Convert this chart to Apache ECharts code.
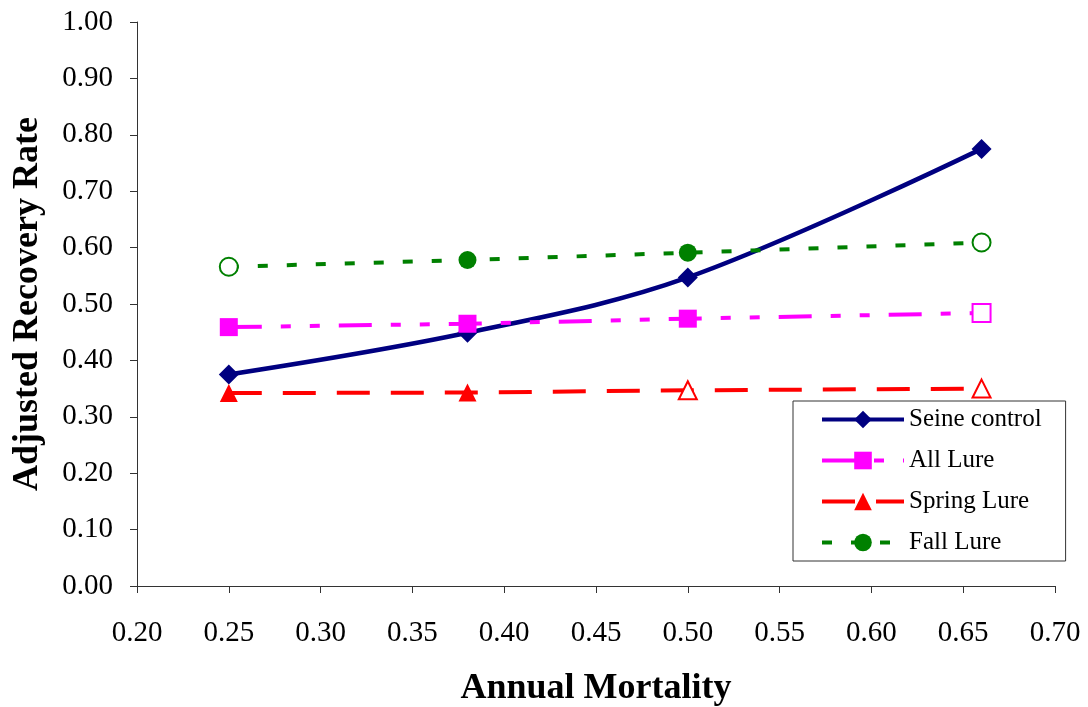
<!DOCTYPE html>
<html>
<head>
<meta charset="utf-8">
<script src="https://cdn.jsdelivr.net/npm/echarts@6/dist/echarts.min.js"></script>
<style>
html,body{margin:0;padding:0;background:#fff;}
#chart{width:1088px;height:707px;}
</style>
</head>
<body>
<div id="chart"></div>
<script>
// ---- data ----
const mortality = [0.25, 0.38, 0.50, 0.66];
const seineControl = [0.375, 0.449, 0.547, 0.775];
const allLure = [0.459, 0.465, 0.474, 0.484];
const springLure = [0.342, 0.343, 0.347, 0.350];
const fallLure = [0.566, 0.578, 0.591, 0.609];
// which points are drawn with hollow markers
const seineHollow = [false, false, false, false];
const allHollow = [false, false, false, true];
const springHollow = [false, false, true, true];
const fallHollow = [true, false, false, true];
const xTicks = [0.20, 0.25, 0.30, 0.35, 0.40, 0.45, 0.50, 0.55, 0.60, 0.65, 0.70];
const yTicks = [0.00, 0.10, 0.20, 0.30, 0.40, 0.50, 0.60, 0.70, 0.80, 0.90, 1.00];

const FONT = '"Liberation Serif", "Times New Roman", serif';

function pts(vals, hollow, color) {
  return mortality.map((x, i) => {
    const d = { value: [x, vals[i]] };
    if (hollow[i]) d.itemStyle = { color: '#ffffff', borderColor: color, borderWidth: 2 };
    return d;
  });
}

function mkSeries(name, vals, hollow, color, symbol, size, dash, width, smooth) {
  return {
    name: name,
    type: 'line',
    data: pts(vals, hollow, color),
    symbol: symbol,
    symbolSize: size,
    smooth: smooth || false,
    showAllSymbol: true,
    lineStyle: { color: color, width: width, type: dash },
    itemStyle: { color: color },
    emphasis: { disabled: true },
    animation: false
  };
}

const chart = echarts.init(document.getElementById('chart'), null, { renderer: 'canvas' });
chart.setOption({
  backgroundColor: '#ffffff',
  animation: false,
  grid: { left: 137, right: 33, top: 22, bottom: 121, containLabel: false, outerBoundsMode: 'none' },
  xAxis: {
    type: 'value',
    min: xTicks[0], max: xTicks[xTicks.length - 1], interval: 0.05,
    name: 'Annual Mortality',
    nameLocation: 'middle',
    nameGap: 85,
    nameTextStyle: { fontFamily: FONT, fontSize: 36, fontWeight: 'bold', color: '#000' },
    axisLine: { onZero: false, lineStyle: { color: '#333', width: 1 } },
    axisTick: { show: true, inside: false, length: 7, lineStyle: { color: '#333' } },
    axisLabel: { fontFamily: FONT, fontSize: 29, color: '#000', margin: 33, formatter: v => v.toFixed(2) },
    splitLine: { show: false }
  },
  yAxis: {
    type: 'value',
    min: yTicks[0], max: yTicks[yTicks.length - 1], interval: 0.1,
    name: 'Adjusted Recovery Rate',
    nameLocation: 'middle',
    nameGap: 91,
    nameRotate: 90,
    nameTextStyle: { fontFamily: FONT, fontSize: 36, fontWeight: 'bold', color: '#000' },
    axisLine: { show: true, lineStyle: { color: '#333', width: 1 } },
    axisTick: { show: true, inside: false, length: 7, lineStyle: { color: '#333' } },
    axisLabel: { fontFamily: FONT, fontSize: 29, color: '#000', margin: 24, formatter: v => v.toFixed(2) },
    splitLine: { show: false }
  },
  legend: {
    orient: 'vertical',
    left: 793,
    top: 401,
    backgroundColor: '#ffffff',
    borderColor: '#333',
    borderWidth: 1,
    borderRadius: 0,
    padding: [6, 24, 6, 27],
    itemWidth: 82,
    itemHeight: 22,
    itemGap: 16,
    lineStyle: { width: 4 },
    textStyle: { fontFamily: FONT, fontSize: 25, color: '#000', lineHeight: 25 },
    data: ['Seine control', 'All Lure', 'Spring Lure', 'Fall Lure']
  },
  series: [
    mkSeries('Seine control', seineControl, seineHollow, '#000080', 'diamond', 20, 'solid', 4.5, 0.35),
    mkSeries('All Lure', allLure, allHollow, '#ff00ff', 'rect', 18, [33, 19, 10, 19, 10, 19], 4),
    mkSeries('Spring Lure', springLure, springHollow, '#ff0000', 'triangle', 18, [33, 21], 4),
    mkSeries('Fall Lure', fallLure, fallHollow, '#008000', 'circle', 18, [10, 19], 4)
  ]
});
</script>
</body>
</html>
